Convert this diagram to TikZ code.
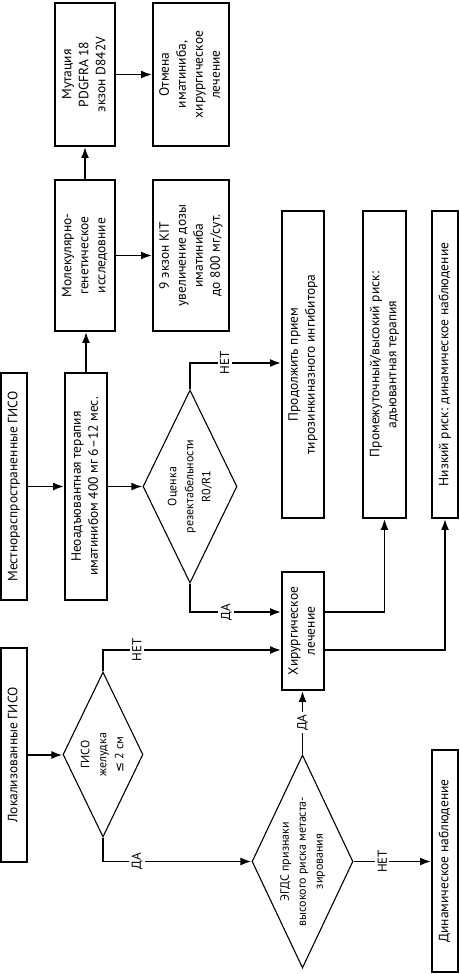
\documentclass[tikz,border=0pt]{standalone}
\usepackage{fontspec}
\setmainfont{PT Sans}
\newfontfamily\symf{DejaVu Sans}
\usetikzlibrary{shapes.geometric,arrows.meta}
\newcommand{\rtx}[1]{\rotatebox{90}{\begin{tabular}{@{}c@{}}#1\end{tabular}}}
\begin{document}
\begin{tikzpicture}[x=1pt,y=-1pt,
  box/.style={draw, line width=1.9pt, inner sep=0pt, font=\fontsize{13.5}{17}\selectfont},
  dia/.style={draw, diamond, line width=1.1pt, inner sep=0pt},
  dtext/.style={inner sep=0pt, font=\fontsize{12}{17}\selectfont},
  conn/.style={line width=1.8pt, -{Latex[length=11pt,width=8pt]}},
  lbl/.style={fill=white, inner sep=2.5pt, rotate=90, font=\fontsize{13}{15}\selectfont}]
\useasboundingbox (0,0) rectangle (459,974);

% boxes
\node[box, minimum width=26pt, minimum height=227pt] (b1) at (14,486.5) {\rtx{Местнораспространенные ГИСО}};
\node[box, minimum width=42pt, minimum height=227pt] (b2) at (86,486.5) {\rtx{Неоадъювантная терапия\\иматинибом 400 мг 6–12 мес.}};
\node[box, minimum width=60pt, minimum height=151pt] (b4) at (85,255.5) {\rtx{Молекулярно-\\генетическое\\исследовние}};
\node[box, minimum width=60pt, minimum height=143pt] (b5) at (85,74.5) {\rtx{Мутация\\PDGFRA 18\\экзон D842V}};
\node[box, minimum width=76pt, minimum height=143pt] (b6) at (191,74.5) {\rtx{Отмена\\иматиниба,\\хирургическое\\лечение}};
\node[box, minimum width=76pt, minimum height=151pt] (b7) at (191,255.5) {\rtx{9 экзон KIT\\увеличение дозы\\иматиниба\\до 800 мг/сут.}};
\node[box, minimum width=42pt, minimum height=307pt] (b8) at (303,364.5) {\rtx{Продолжить прием\\тирозинкиназного ингибитора}};
\node[box, minimum width=43pt, minimum height=307pt] (b9) at (384.5,364.5) {\rtx{Промежуточный/высокий риск:\\адъювантная терапия}};
\node[box, minimum width=26pt, minimum height=307pt] (b10) at (445,364.5) {\rtx{Низкий риск: динамическое наблюдение}};
\node[box, minimum width=42pt, minimum height=118pt] (b11) at (303,631) {\rtx{Хирургическое\\лечение}};
\node[box, minimum width=26pt, minimum height=214pt] (b12) at (14,755) {\rtx{Локализованные ГИСО}};
\node[box, minimum width=26pt, minimum height=222pt] (b15) at (445,861) {\rtx{Динамическое наблюдение}};

% diamonds
\node[dia, minimum width=94pt, minimum height=193pt] (d1) at (190,486.5) {};
\node[dtext] at (d1.center) {\rtx{Оценка\\резектабельности\\R0/R1}};
\node[dia, minimum width=80pt, minimum height=165pt] (d2) at (103,754.5) {};
\node[dtext] at (d2.center) {\rtx{ГИСО\\желудка\\{\symf ≤} 2 см}};
\node[dia, minimum width=101pt, minimum height=213pt] (d3) at (302.5,861.5) {};
\node[dtext] at (d3.center) {\rtx{ЭГДС признаки\\высокого риска метаста-\\зирования}};

% connectors
\draw[conn] (b1.east) -- (b1.east -| b2.west);
\draw[conn] (b2.east) -- (b2.east -| d1.west);
\draw[conn] (b2.north) -- (b2.north |- b4.south);
\draw[conn] (b4.north) -- (b5.south);
\draw[conn] (b4.east) -- (b7.west);
\draw[conn] (b5.east) -- (b6.west);
\draw[conn] (d1.north) -- (d1.north |- 0,363) -- node[lbl, pos=0.38] {НЕТ} (b8.west |- 0,363);
\draw[conn] (d1.south) -- (d1.south |- 0,612) -- node[lbl, pos=0.4] {ДА} (b11.west |- 0,612);
\draw[conn] (b12.east) -- (b12.east -| d2.west);
\draw[conn] (d2.north) -- (d2.north |- 0,650) -- node[lbl, pos=0.19] {НЕТ} (b11.west |- 0,650);
\draw[conn] (d2.south) -- (d2.south |- d3.west) -- node[lbl, pos=0.23] {ДА} (d3.west);
\draw[conn] (d3.east) -- node[lbl, pos=0.37] {НЕТ} (d3.east -| b15.west);
\draw[conn] (d3.north) -- node[lbl, pos=0.5] {ДА} (d3.north |- b11.south);
\draw[conn] (b11.east |- 0,612) -- (b9.south |- 0,612) -- (b9.south);
\draw[conn] (b11.east |- 0,650) -- (b10.south |- 0,650) -- (b10.south);
\end{tikzpicture}
\end{document}
